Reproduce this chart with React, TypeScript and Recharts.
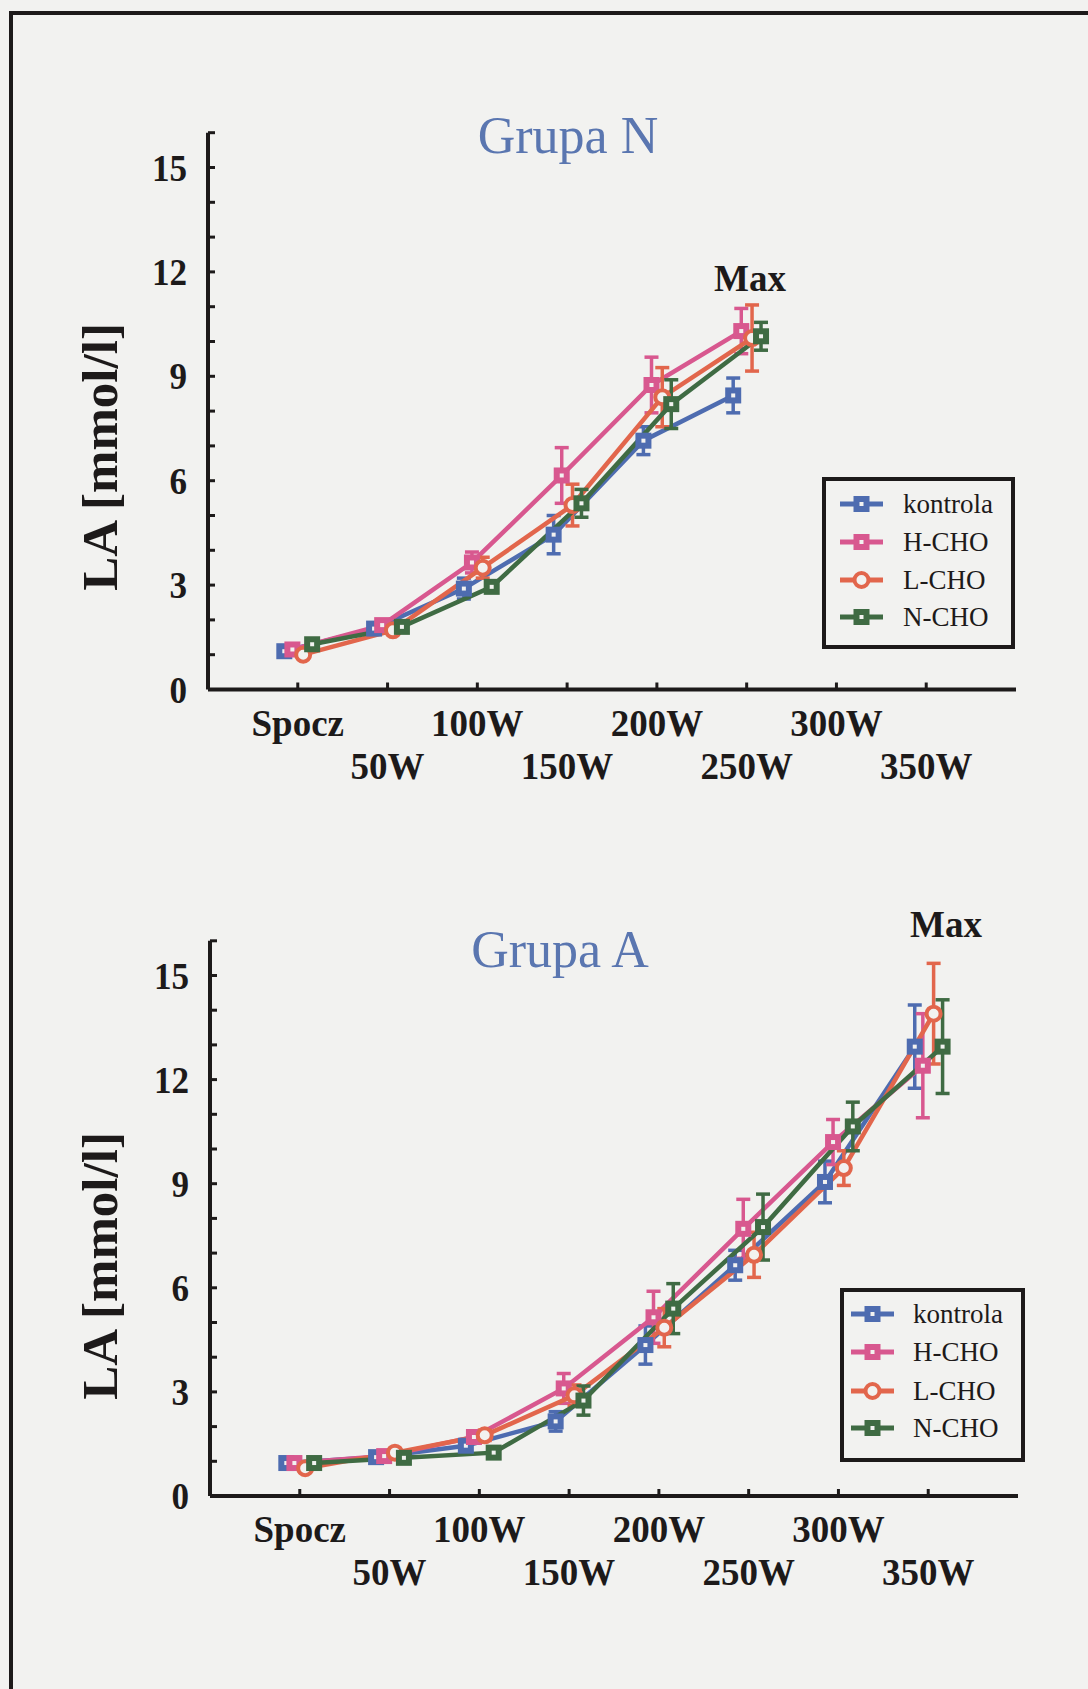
import React from "react";
import { LineChart, Line, XAxis, YAxis, ErrorBar } from "recharts";

// workload steps on the x axis
const steps = ["Spocz", "50W", "100W", "150W", "200W", "250W", "300W", "350W"];
const levelTicks = [0, 1, 2, 3, 4, 5, 6, 7, 8, 9, 10, 11, 12, 13, 14, 15, 16];

const seriesNames = ["kontrola", "H-CHO", "L-CHO", "N-CHO"];
const seriesColors = ["#4e6cb0", "#d8588f", "#e2664c", "#3f6b43"];
const seriesShapes = ["square", "square", "circle", "square"];
// small horizontal shift so the groups don't sit on top of each other
const seriesShift = [-0.15, -0.06, 0.06, 0.16];

// Grupa N (mean, SD)
const nKontrola = [1.1, 1.75, 2.9, 4.45, 7.15, 8.45];
const nKontrolaSd = [0.1, 0.1, 0.3, 0.55, 0.4, 0.5];
const nHCho = [1.15, 1.85, 3.65, 6.15, 8.75, 10.3];
const nHChoSd = [0.1, 0.15, 0.3, 0.8, 0.8, 0.65];
const nLCho = [1.0, 1.7, 3.5, 5.3, 8.4, 10.1];
const nLChoSd = [0.1, 0.1, 0.3, 0.6, 0.85, 0.95];
const nNCho = [1.3, 1.8, 2.95, 5.35, 8.2, 10.15];
const nNChoSd = [0.1, 0.1, 0.15, 0.4, 0.7, 0.4];

// Grupa A (mean, SD)
const aKontrola = [0.95, 1.12, 1.45, 2.15, 4.35, 6.65, 9.05, 12.95];
const aKontrolaSd = [0.1, 0.1, 0.15, 0.28, 0.55, 0.43, 0.6, 1.2];
const aHCho = [0.95, 1.15, 1.7, 3.1, 5.15, 7.7, 10.2, 12.4];
const aHChoSd = [0.1, 0.1, 0.1, 0.43, 0.75, 0.85, 0.65, 1.5];
const aLCho = [0.8, 1.25, 1.75, 2.9, 4.85, 6.95, 9.45, 13.9];
const aLChoSd = [0.1, 0.1, 0.15, 0.3, 0.55, 0.65, 0.5, 1.45];
const aNCho = [0.95, 1.1, 1.25, 2.75, 5.4, 7.75, 10.65, 12.95];
const aNChoSd = [0.1, 0.1, 0.1, 0.42, 0.72, 0.95, 0.7, 1.35];

const serif = '"Liberation Serif", "Times New Roman", serif';
const ink = "#1d1a1a";
const paper = "#f2f2f0";
const titleBlue = "#5a76b0";

type Point = { x: number; y: number; sd: number };

function toPoints(values: number[], sd: number[], shift: number): Point[] {
  return values.map((v, i) => ({ x: i + shift, y: v, sd: sd[i] }));
}

function MarkerShape({ cx, cy, shape, color }: any) {
  if (cx == null || cy == null) return null;
  if (shape === "circle") {
    return <circle cx={cx} cy={cy} r={7} fill={paper} stroke={color} strokeWidth={4} />;
  }
  return <rect x={cx - 5} y={cy - 5} width={10} height={10} fill={paper} stroke={color} strokeWidth={6} />;
}

function StepTick({ x, y, payload }: any) {
  const i = payload.value as number;
  const lower = i % 2 === 1;
  return (
    <g>
      <line x1={x} x2={x} y1={y} y2={y - 7} stroke={ink} strokeWidth={3} />
      <text
        transform={`translate(${x} ${y + (lower ? 89 : 46)}) scale(1 1.04)`}
        textAnchor="middle"
        fontFamily={serif}
        fontWeight="bold"
        fontSize={37}
        fill={ink}
      >
        {steps[i]}
      </text>
    </g>
  );
}

function LevelTick({ x, y, payload }: any) {
  const v = payload.value as number;
  return (
    <g>
      <line x1={x} x2={x + 7} y1={y} y2={y} stroke={ink} strokeWidth={3} />
      {v % 3 === 0 && v <= 15 ? (
        <text
          transform={`translate(${x - 21} ${y + 13}) scale(0.9 1)`}
          textAnchor="end"
          fontFamily={serif}
          fontWeight="bold"
          fontSize={39}
          fill={ink}
        >
          {v}
        </text>
      ) : null}
    </g>
  );
}

type PanelProps = {
  top: number;
  height: number;
  plotLeft: number;
  plotRight: number;
  zeroY: number;
  unit: number;
  groups: Point[][];
};

function Panel({ top, height, plotLeft, plotRight, zeroY, unit, groups }: PanelProps) {
  const yAxisWidth = 100;
  const xAxisHeight = 100;
  const margin = {
    top: zeroY - 16 * unit - top,
    right: 1088 - plotRight,
    left: plotLeft - yAxisWidth,
    bottom: top + height - zeroY - xAxisHeight,
  };
  return (
    <div style={{ position: "absolute", left: 0, top, width: 1088, height }}>
      <LineChart width={1088} height={height} margin={margin}>
        <XAxis
          type="number"
          dataKey="x"
          domain={[-1, 8]}
          ticks={[0, 1, 2, 3, 4, 5, 6, 7]}
          allowDataOverflow
          height={xAxisHeight}
          tickSize={0}
          tickMargin={0}
          tickLine={false}
          axisLine={{ stroke: ink, strokeWidth: 4 }}
          tick={<StepTick />}
          interval={0}
        />
        <YAxis
          type="number"
          dataKey="y"
          domain={[0, 16]}
          ticks={levelTicks}
          allowDataOverflow
          width={yAxisWidth}
          tickSize={0}
          tickMargin={0}
          tickLine={false}
          axisLine={{ stroke: ink, strokeWidth: 4 }}
          tick={<LevelTick />}
          interval={0}
        />
        {groups.map((pts, s) => (
          <Line
            key={seriesNames[s]}
            data={pts}
            dataKey="y"
            type="linear"
            stroke={seriesColors[s]}
            strokeWidth={4.5}
            isAnimationActive={false}
            dot={(p: any) => (
              <MarkerShape key={p.index} cx={p.cx} cy={p.cy} shape={seriesShapes[s]} color={seriesColors[s]} />
            )}
            activeDot={false}
          >
            <ErrorBar dataKey="sd" direction="y" width={7} strokeWidth={3.5} stroke={seriesColors[s]} />
          </Line>
        ))}
      </LineChart>
    </div>
  );
}

function LegendBox({ x, y, w, h, rowY, symX, textX }: any) {
  return (
    <g>
      <rect x={x} y={y} width={w} height={h} fill="none" stroke={ink} strokeWidth={4} />
      {seriesNames.map((name, s) => {
        const cy = rowY[s];
        return (
          <g key={name}>
            <line x1={symX} x2={symX + 43} y1={cy} y2={cy} stroke={seriesColors[s]} strokeWidth={5} />
            <MarkerShape cx={symX + 21.5} cy={cy} shape={seriesShapes[s]} color={seriesColors[s]} />
            <text x={textX} y={cy + 9} fontFamily={serif} fontSize={27} fill={ink}>
              {name}
            </text>
          </g>
        );
      })}
    </g>
  );
}

export default function App() {
  const groupN = [
    toPoints(nKontrola, nKontrolaSd, seriesShift[0]),
    toPoints(nHCho, nHChoSd, seriesShift[1]),
    toPoints(nLCho, nLChoSd, seriesShift[2]),
    toPoints(nNCho, nNChoSd, seriesShift[3]),
  ];
  const groupA = [
    toPoints(aKontrola, aKontrolaSd, seriesShift[0]),
    toPoints(aHCho, aHChoSd, seriesShift[1]),
    toPoints(aLCho, aLChoSd, seriesShift[2]),
    toPoints(aNCho, aNChoSd, seriesShift[3]),
  ];

  return (
    <div
      style={{
        position: "absolute",
        left: 0,
        top: 0,
        width: 1088,
        height: 1689,
        background: paper,
        overflow: "hidden",
      }}
    >
      {/* scanned page frame */}
      <div
        style={{
          position: "absolute",
          left: 9,
          top: 11,
          width: 1200,
          height: 1800,
          borderLeft: `4px solid ${ink}`,
          borderTop: `4px solid ${ink}`,
        }}
      />
      <Panel top={0} height={800} plotLeft={208} plotRight={1016} zeroY={689.5} unit={34.8} groups={groupN} />
      <Panel top={820} height={869} plotLeft={210} plotRight={1018} zeroY={1496} unit={34.7} groups={groupA} />
      <svg
        width={1088}
        height={1689}
        style={{ position: "absolute", left: 0, top: 0, pointerEvents: "none" }}
      >
        <text x={568} y={153} textAnchor="middle" fontFamily={serif} fontSize={52} fill={titleBlue}>
          Grupa N
        </text>
        <text x={560} y={967} textAnchor="middle" fontFamily={serif} fontSize={52} fill={titleBlue}>
          Grupa A
        </text>
        <text x={750} y={291} textAnchor="middle" fontFamily={serif} fontWeight="bold" fontSize={37} fill={ink}>
          Max
        </text>
        <text x={946} y={937} textAnchor="middle" fontFamily={serif} fontWeight="bold" fontSize={37} fill={ink}>
          Max
        </text>
        <text
          transform="translate(117 457) rotate(-90)"
          textAnchor="middle"
          fontFamily={serif}
          fontWeight="bold"
          fontSize={51}
          fill={ink}
        >
          LA [mmol/l]
        </text>
        <text
          transform="translate(117 1266) rotate(-90)"
          textAnchor="middle"
          fontFamily={serif}
          fontWeight="bold"
          fontSize={51}
          fill={ink}
        >
          LA [mmol/l]
        </text>
        <LegendBox x={824} y={479} w={189} h={168} rowY={[504, 542, 580, 617]} symX={840} textX={903} />
        <LegendBox x={842} y={1290} w={181} h={170} rowY={[1314, 1352, 1391, 1428]} symX={851} textX={913} />
      </svg>
    </div>
  );
}
